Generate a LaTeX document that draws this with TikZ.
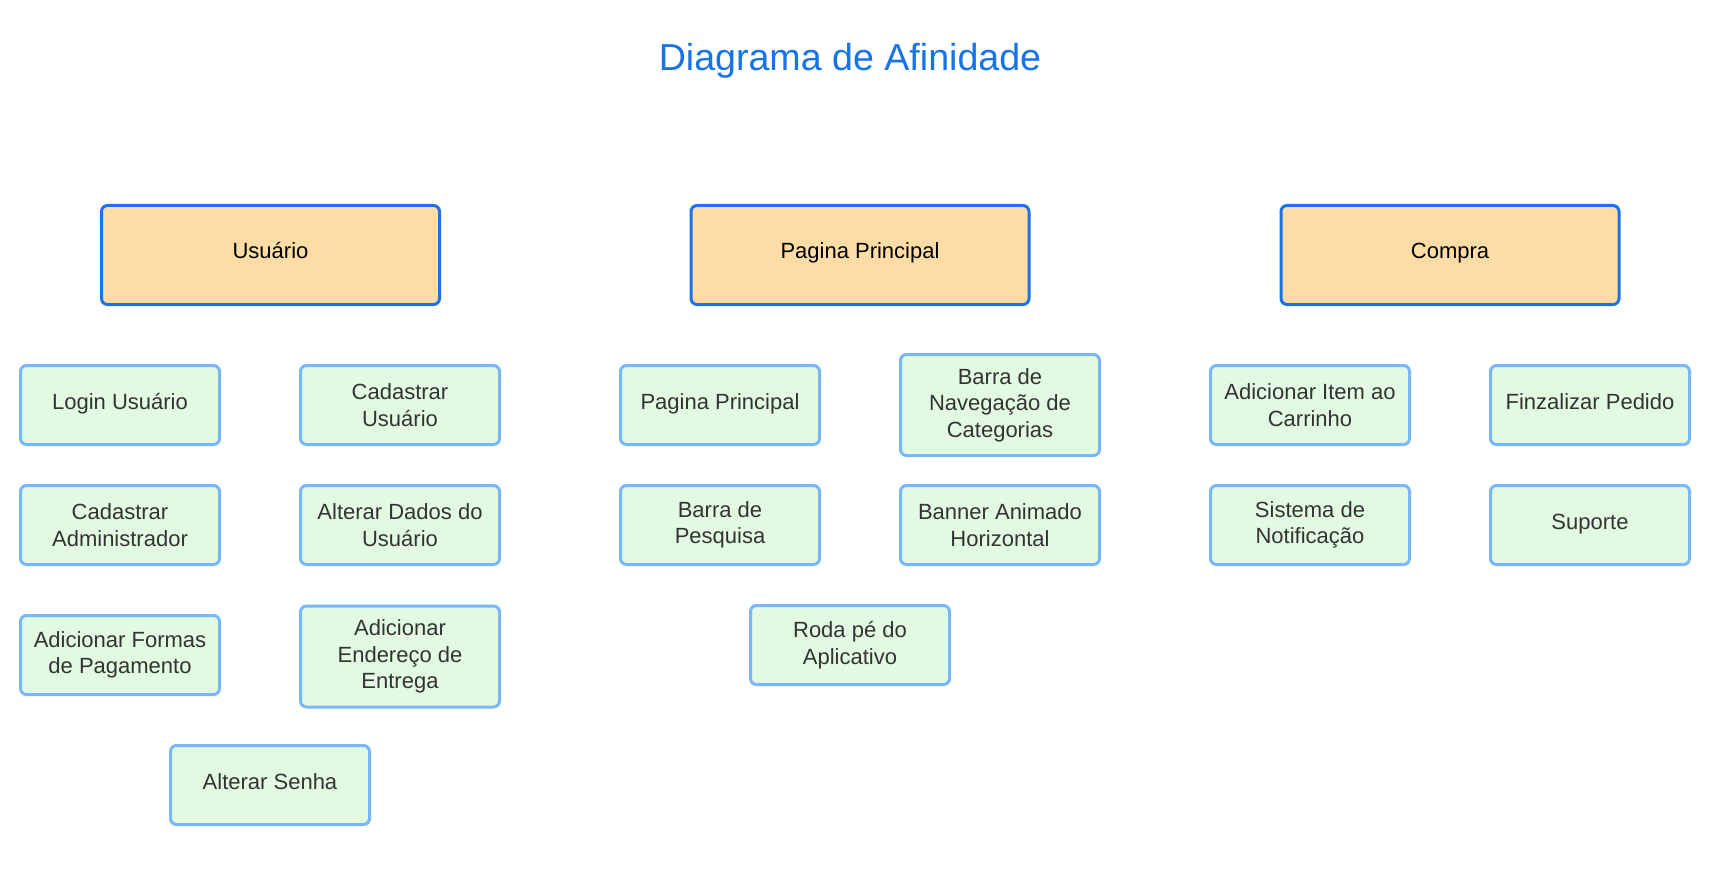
\documentclass[tikz,border=0pt]{standalone}
\usepackage{fontspec}
\setmainfont{Liberation Sans}
\definecolor{titleblue}{RGB}{22,115,232}
\definecolor{headborder}{RGB}{26,115,232}
\definecolor{headfill}{RGB}{254,220,166}
\definecolor{itemborder}{RGB}{122,182,250}
\definecolor{itemfill}{RGB}{226,250,226}
\definecolor{itemtext}{RGB}{51,51,51}
\begin{document}
\begin{tikzpicture}[x=1pt,y=-1pt,
  header/.style={draw=headborder,fill=headfill,line width=3pt,rounded corners=6pt,
    minimum width=338pt,minimum height=99pt,inner sep=0pt,align=center,
    font=\fontsize{22}{26.5}\selectfont,text=black},
  item/.style={draw=itemborder,fill=itemfill,line width=3pt,rounded corners=6pt,
    minimum width=199pt,minimum height=79pt,inner sep=0pt,align=center,
    font=\fontsize{22}{26.5}\selectfont,text=itemtext},
  tall/.style={minimum height=101pt},
  single/.style={text height=16pt,text depth=8pt}]
\useasboundingbox (0,0) rectangle (1718,885);
\fill[white] (0,0) rectangle (1718,885);
\node[anchor=base,text=titleblue,font=\fontsize{37.6}{44}\selectfont] (title) at (850,71) {Diagrama de Afinidade};
% headers
\node[header,single] (hU) at (270.5,255) {Usuário};
\node[header,single] (hP) at (860,255) {Pagina Principal};
\node[header,single] (hC) at (1450,255) {Compra};
% Usuario group
\node[item,single] (login) at (120,405) {Login Usuário};
\node[item] (cadU) at (400,405) {Cadastrar\\Usuário};
\node[item] (cadA) at (120,525) {Cadastrar\\Administrador};
\node[item] (altD) at (400,525) {Alterar Dados do\\Usuário};
\node[item] (addF) at (120,655) {Adicionar Formas\\de Pagamento};
\node[item,tall] (addE) at (400,656.5) {Adicionar\\Endereço de\\Entrega};
\node[item,single] (altS) at (270,785) {Alterar Senha};
% Pagina group
\node[item,single] (pp) at (720,405) {Pagina Principal};
\node[item,tall] (nav) at (1000,405) {Barra de\\Navegação de\\Categorias};
\node[item] (pesq) at (720,525) {Barra de\\Pesquisa};
\node[item] (ban) at (1000,525) {Banner Animado\\Horizontal};
\node[item] (roda) at (850,645) {Roda pé do\\Aplicativo};
% Compra group
\node[item] (addI) at (1310,405) {Adicionar Item ao\\Carrinho};
\node[item,single] (fin) at (1590,405) {Finzalizar Pedido};
\node[item] (sis) at (1310,525) {Sistema de\\Notificação};
\node[item,single] (sup) at (1590,525) {Suporte};
\end{tikzpicture}
\end{document}
